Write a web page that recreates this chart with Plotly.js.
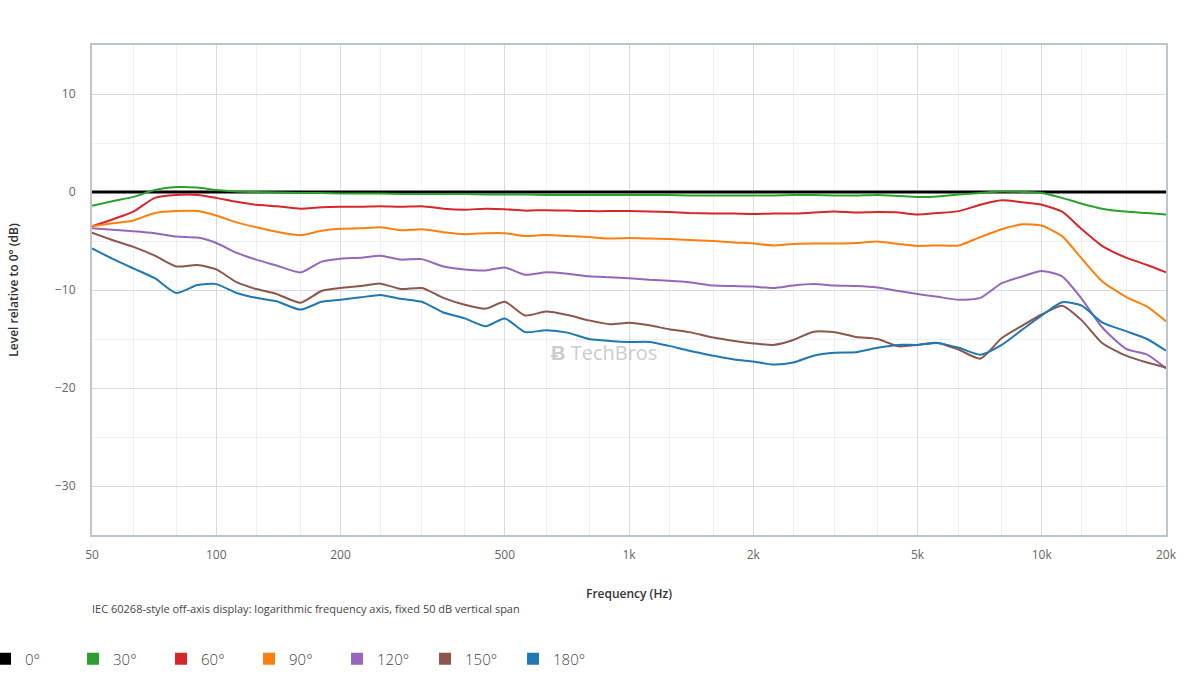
<!DOCTYPE html>
<html>
<head>
<meta charset="utf-8">
<script src="https://cdn.plot.ly/plotly-3.0.1.min.js"></script>
<style>
  html, body { margin: 0; padding: 0; background: #fff; }
  #offAxisPlot { width: 1200px; height: 700px; }
</style>
</head>
<body>
<div id="offAxisPlot"></div>
<script>
// Frequencies (Hz), roughly 1/6-octave steps.
const freqs = [50, 56, 63, 71, 80, 90, 100, 112, 125, 140, 160, 180, 200, 224, 250, 280, 315, 355, 400, 450,
  500, 560, 630, 710, 800, 900, 1000, 1120, 1250, 1400, 1600, 1800, 2000, 2240, 2500, 2800, 3150, 3550, 4000, 4500,
  5000, 5600, 6300, 7100, 8000, 9000, 10000, 11200, 12500, 14000, 16000, 18000, 20000];

const angles = ["0°", "30°", "60°", "90°", "120°", "150°", "180°"];
const angleColors = ["#000000", "#2ca02c", "#d62728", "#ff7f0e", "#9467bd", "#8c564b", "#1f77b4"];

// Level relative to 0° (dB), one array per angle.
const level0 = freqs.map(() => 0);
const level30 = [-1.4, -0.95, -0.5, 0.2, 0.5, 0.45, 0.2, 0.05, 0, -0.05, -0.1, -0.1, -0.15, -0.15, -0.15, -0.2, -0.2, -0.2, -0.2, -0.25,
  -0.25, -0.25, -0.3, -0.3, -0.3, -0.3, -0.3, -0.3, -0.3, -0.35, -0.35, -0.35, -0.35, -0.35, -0.3, -0.3, -0.35, -0.35, -0.3, -0.4,
  -0.5, -0.45, -0.25, -0.1, 0.05, 0.0, -0.1, -0.6, -1.2, -1.7, -2.0, -2.15, -2.3];
const level60 = [-3.5, -2.8, -2.0, -0.6, -0.3, -0.3, -0.6, -1.0, -1.3, -1.45, -1.7, -1.55, -1.5, -1.5, -1.45, -1.5, -1.45, -1.7, -1.8, -1.7,
  -1.75, -1.9, -1.85, -1.9, -1.95, -1.95, -1.95, -2.0, -2.05, -2.15, -2.2, -2.2, -2.25, -2.2, -2.2, -2.1, -2.0, -2.1, -2.05, -2.1,
  -2.3, -2.15, -1.95, -1.3, -0.85, -1.05, -1.3, -2.0, -3.8, -5.5, -6.7, -7.45, -8.2];
const level90 = [-3.5, -3.2, -2.9, -2.15, -1.95, -1.95, -2.4, -3.1, -3.6, -4.05, -4.4, -3.95, -3.75, -3.7, -3.6, -3.9, -3.8, -4.1, -4.3, -4.2,
  -4.2, -4.5, -4.4, -4.5, -4.6, -4.75, -4.7, -4.75, -4.8, -4.9, -5.0, -5.15, -5.25, -5.45, -5.3, -5.25, -5.25, -5.2, -5.05, -5.3,
  -5.5, -5.45, -5.45, -4.6, -3.8, -3.3, -3.45, -4.5, -6.8, -9.1, -10.7, -11.7, -13.2];
const level120 = [-3.7, -3.85, -4.0, -4.2, -4.55, -4.65, -5.2, -6.2, -6.9, -7.5, -8.2, -7.1, -6.8, -6.7, -6.5, -6.9, -6.85, -7.6, -7.9, -8.0,
  -7.7, -8.45, -8.2, -8.35, -8.6, -8.7, -8.8, -8.95, -9.05, -9.2, -9.55, -9.6, -9.65, -9.8, -9.55, -9.4, -9.55, -9.6, -9.75, -10.1,
  -10.4, -10.7, -11.0, -10.8, -9.3, -8.6, -8.05, -8.6, -10.9, -13.8, -16.0, -16.6, -18.0];
const level150 = [-4.15, -4.9, -5.6, -6.5, -7.6, -7.45, -7.9, -9.2, -9.9, -10.4, -11.3, -10.1, -9.8, -9.6, -9.35, -9.9, -9.8, -10.8, -11.5, -11.9,
  -11.2, -12.6, -12.2, -12.55, -13.1, -13.5, -13.35, -13.6, -14.0, -14.3, -14.85, -15.2, -15.45, -15.6, -15.1, -14.25, -14.3, -14.8, -15.0, -15.75,
  -15.6, -15.4, -16.1, -17.0, -14.9, -13.6, -12.5, -11.6, -13.1, -15.4, -16.7, -17.4, -17.9];
const level180 = [-5.75, -6.8, -7.8, -8.8, -10.3, -9.5, -9.4, -10.3, -10.8, -11.15, -12.0, -11.2, -11.0, -10.75, -10.5, -10.9, -11.2, -12.3, -12.9, -13.7,
  -12.9, -14.3, -14.1, -14.35, -15.0, -15.2, -15.3, -15.3, -15.7, -16.2, -16.7, -17.1, -17.3, -17.6, -17.4, -16.7, -16.4, -16.35, -15.9, -15.6,
  -15.6, -15.4, -15.9, -16.6, -15.6, -14.0, -12.6, -11.25, -11.6, -13.3, -14.2, -15.0, -16.2];
const levels = [level0, level30, level60, level90, level120, level150, level180];

// Axis ticks.
const xTickVals = [50, 100, 200, 500, 1000, 2000, 5000, 10000, 20000];
const xTickText = ["50", "100", "200", "500", "1k", "2k", "5k", "10k", "20k"];
const xMinorVals = [63, 80, 125, 160, 250, 315, 400, 630, 800, 1250, 1600, 2500, 3150, 4000, 6300, 8000, 12500, 16000];
const yTickVals = [-30, -20, -10, 0, 10];

const caption = "IEC 60268-style off-axis display: logarithmic frequency axis, fixed 50 dB vertical span";

function buildTraces() {
  const data = [];
  for (var i = 0; i < angles.length; i++) {
    data.push({
      x: freqs,
      y: levels[i],
      name: angles[i],
      mode: 'lines',
      line: { color: angleColors[i], width: i == 0 ? 3 : 2, shape: 'spline', smoothing: 0.6 },
      showlegend: false,
      hoverinfo: 'skip'
    });
  }
  // Legend entries drawn as squares, like the original.
  for (var i = 0; i < angles.length; i++) {
    data.push({
      x: [null],
      y: [null],
      name: angles[i],
      mode: 'markers',
      marker: { color: angleColors[i], size: 14, symbol: 'square' },
      showlegend: true
    });
  }
  return data;
}

const font = "'Open Sans', 'Segoe UI', sans-serif";

const layout = {
  width: 1200,
  height: 700,
  margin: { l: 92, r: 34, t: 45, b: 165, autoexpand: false },
  paper_bgcolor: '#ffffff',
  plot_bgcolor: '#ffffff',
  font: { family: font, size: 12, color: '#555' },
  showlegend: true,
  xaxis: {
    type: 'log',
    range: [Math.log10(50), Math.log10(20000)],
    tickmode: 'array',
    tickvals: xTickVals,
    ticktext: xTickText,
    tickfont: { size: 12, color: '#666' },
    ticklabelstandoff: 8,
    showgrid: true,
    gridcolor: '#d5dbe1',
    gridwidth: 1,
    minor: { tickmode: 'array', tickvals: xMinorVals, showgrid: true, gridcolor: '#eef1f4', gridwidth: 1 },
    showline: true,
    linecolor: '#bcc4cc',
    linewidth: 2,
    mirror: true,
    zeroline: false,
    title: { text: 'Frequency (Hz)', font: { size: 12, color: '#333', weight: 600 }, standoff: 27 }
  },
  yaxis: {
    range: [-35, 15],
    tickmode: 'array',
    tickvals: yTickVals,
    tickfont: { size: 12, color: '#666' },
    ticklabelstandoff: 12,
    showgrid: true,
    gridcolor: '#d5dbe1',
    gridwidth: 1,
    minor: { dtick: 5, showgrid: true, gridcolor: '#eef1f4', gridwidth: 1 },
    showline: true,
    linecolor: '#bcc4cc',
    linewidth: 2,
    mirror: true,
    zeroline: false,
    title: { text: 'Level relative to 0° (dB)', font: { size: 12, color: '#333', weight: 600 }, standoff: 34 }
  },
  legend: {
    orientation: 'h',
    x: -0.0996,
    xanchor: 'left',
    y: -0.253,
    yanchor: 'middle',
    font: { family: font, size: 15, color: '#444', weight: 300 },
    entrywidth: 43,
    entrywidthmode: 'pixels',
    itemsizing: 'constant'
  },
  annotations: [
    {
      text: caption,
      xref: 'paper', yref: 'paper',
      x: -0.002, y: -0.151,
      xanchor: 'left', yanchor: 'middle',
      showarrow: false,
      font: { family: font, size: 11, color: '#444' }
    },
    {
      text: '<b>Ƀ</b> TechBros',
      xref: 'paper', yref: 'paper',
      x: 0.477, y: 0.373,
      xanchor: 'center', yanchor: 'middle',
      showarrow: false,
      font: { family: font, size: 20, color: '#cccccc' }
    }
  ]
};

Plotly.newPlot('offAxisPlot', buildTraces(), layout, { displayModeBar: false, staticPlot: true });
</script>
</body>
</html>
